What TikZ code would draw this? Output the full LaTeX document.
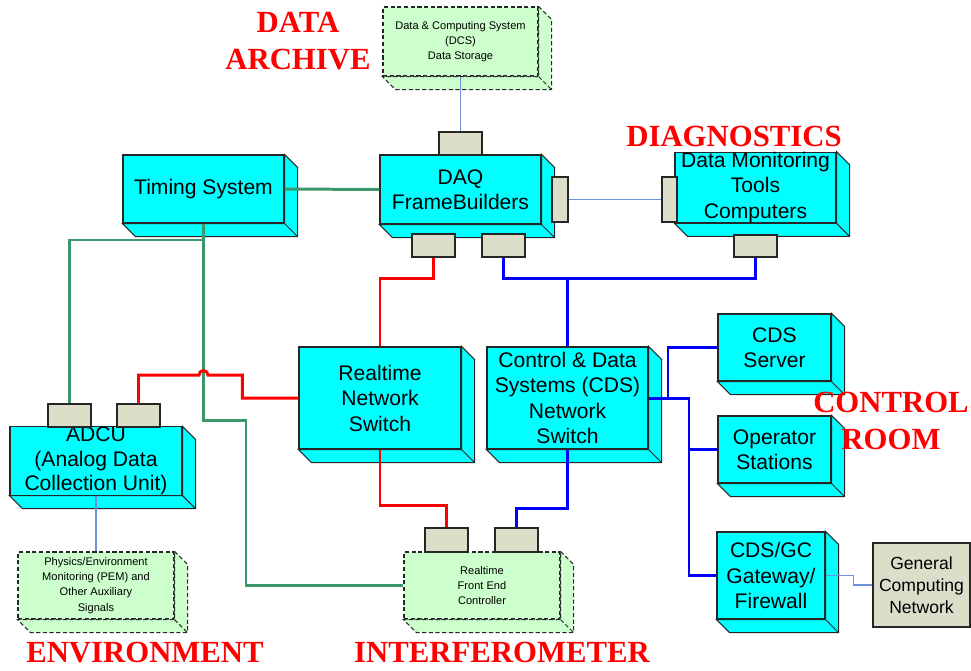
\documentclass[tikz,border=0pt]{standalone}
\usepackage{fontspec}
\setmainfont{Liberation Sans}
\newfontfamily\areafont{Liberation Serif}
\definecolor{boxcyan}{RGB}{0,255,255}
\definecolor{palegreen}{RGB}{204,255,204}
\definecolor{portgray}{RGB}{221,222,201}
\definecolor{clkgreen}{RGB}{60,152,108}
\definecolor{thinblue}{RGB}{110,145,220}
\usetikzlibrary{calc}

\tikzset{
  hwface/.style={draw=black!85, fill=boxcyan, line width=0.6pt},
  storeface/.style={draw=black!85, fill=palegreen, dashed, dash pattern=on 2.4pt off 1.4pt, line width=0.6pt},
  hw/.style={hwface, align=center, inner sep=0pt, font=\fontsize{12}{14.5}\selectfont},
  store/.style={storeface, align=center, inner sep=0pt, font=\fontsize{6.3}{8.6}\selectfont},
  port/.style={draw=black!85, fill=portgray, line width=0.6pt, inner sep=0pt},
  sz/.style 2 args={minimum width=#1*0.02cm, minimum height=#2*0.02cm},
  area/.style={text=red, align=center, font=\areafont\bfseries\fontsize{17.5}{21.5}\selectfont},
  clkline/.style={clkgreen, line width=1.7pt},
  rtline/.style={red, line width=1.7pt},
  cdsline/.style={blue, line width=1.7pt},
  dataline/.style={thinblue, line width=0.6pt}
}

% side and bottom faces of a box, 13 units deep
\newcommand{\boxdepth}[2][]{%
  \filldraw[#1] (#2.north east) -- ++(13,13) -- ([shift={(13,13)}]#2.south east)
    -- ([shift={(13,13)}]#2.south west) -- (#2.south west) -- (#2.south east) -- cycle;
  \draw[#1] (#2.south east) -- ++(13,13);}

\begin{document}
\begin{tikzpicture}[x=0.02cm, y=-0.02cm]
\useasboundingbox (0,0) rectangle (971,670);

% storage and computers
\node[store, sz={155}{69}] (dcs) at (460.5,41.5) {Data \& Computing System\\(DCS)\\Data Storage};
\boxdepth[storeface]{dcs}
\node[hw, sz={161}{69}] (daq) at (460.5,189.5) {DAQ\\FrameBuilders};
\boxdepth[hwface]{daq}
\node[hw, sz={161}{68}] (timing) at (203.5,189) {Timing System};
\boxdepth[hwface]{timing}
\node[hw, sz={161}{69}] (dmt) at (755.5,187.5) {Data Monitoring\\Tools\\Computers};
\boxdepth[hwface]{dmt}

% switches
\node[hw, sz={162}{102}] (rns) at (380,398) {Realtime\\Network\\Switch};
\boxdepth[hwface]{rns}
\node[hw, sz={161}{102}] (cdsw) at (567.5,398) {Control \& Data\\Systems (CDS)\\Network\\Switch};
\boxdepth[hwface]{cdsw}

% control room
\node[hw, sz={113}{67}] (srv) at (774.5,347.5) {CDS\\Server};
\boxdepth[hwface]{srv}
\node[hw, sz={113}{67}] (ops) at (774.5,449.5) {Operator\\Stations};
\boxdepth[hwface]{ops}
\node[hw, sz={108}{87}] (gw) at (771,575.5) {CDS/GC\\Gateway/\\Firewall};
\boxdepth[hwface]{gw}
\node[port, sz={97}{84}, align=center, font=\fontsize{10}{12.5}\selectfont] (gcn) at (921.5,585) {General\\Computing\\Network};

% environment and interferometer
\node[hw, sz={172}{68}, font=\fontsize{12}{14}\selectfont] (adcu) at (96,461) {ADCU\\(Analog Data\\Collection Unit)};
\boxdepth[hwface]{adcu}
\node[store, sz={156}{67}] (pem) at (96,585.5) {Physics/Environment\\Monitoring (PEM) and\\Other Auxiliary\\Signals};
\boxdepth[storeface]{pem}
\node[store, sz={156}{67}] (rfec) at (482,585.5) {Realtime\\Front End\\Controller};
\boxdepth[storeface]{rfec}

% ports
\node[port, sz={43}{23}] (daqtop) at (460.5,143.5) {};
\node[port, sz={16}{45}] (daqright) at (560,199.5) {};
\node[port, sz={43}{23}] (daqbl) at (433.5,245.5) {};
\node[port, sz={43}{23}] (daqbr) at (503.5,245.5) {};
\node[port, sz={15}{45}] (dmtleft) at (669.5,199.5) {};
\node[port, sz={43}{22}] (dmtbot) at (755.5,246) {};
\node[port, sz={43}{23}] (adcu1) at (69.5,415.5) {};
\node[port, sz={43}{23}] (adcu2) at (138.5,415.5) {};
\node[port, sz={43}{24}] (rfec1) at (446.5,540) {};
\node[port, sz={43}{24}] (rfec2) at (516.5,540) {};

% timing
\coordinate (gsplit) at (203.5,240);
\coordinate (gbend) at (246,420);
\draw[clkline] (timing.east) -- (daq.west);
\draw[clkline] (timing.south) |- (gbend) |- (rfec.west);
\draw[clkline] (gsplit) -| (adcu1.north);

% realtime network
\coordinate (rhop) at (203.5,375);
\draw[rtline] (daqbl.south) -- ++(0,21) -| (rns.north);
\draw[rtline] (rns.west) -- ++(-56,0) |- ([xshift=0.09cm]rhop)
  arc[start angle=0, end angle=180, radius=0.09cm] -| (adcu2.north);
\draw[rtline] (rns.south) -- ++(0,56) -| (rfec1.north);

% CDS network
\coordinate (bbus) at ($(daqbr.south)+(0,21)$);
\coordinate (bsrv) at (668,398);
\coordinate (bsplit) at (689,398);
\draw[cdsline] (daqbr.south) -- (bbus) -| (dmtbot.south);
\draw[cdsline] (cdsw.north) -- (cdsw.north |- bbus);
\draw[cdsline] (cdsw.east) -- (bsplit) |- (gw.west);
\draw[cdsline] (bsrv) |- (srv.west);
\draw[cdsline] (bsplit) |- (ops.west);
\draw[cdsline] (cdsw.south) -- ++(0,59) -| (rfec2.north);

% data links
\draw[dataline] (dcs.south) -- (daqtop.north);
\draw[dataline] (daqright.east) -- (dmtleft.west);
\draw[dataline] (adcu.south) -- (pem.north);
\draw[dataline] (gw.east) -- ++(28,0) |- (gcn.west);

% areas
\node[area] (archive) at (298,41) {DATA\\ARCHIVE};
\node[area] (diag) at (734,136) {DIAGNOSTICS};
\node[area] (ctrl) at (891,421) {CONTROL\\ROOM};
\node[area] (env) at (145,653) {ENVIRONMENT};
\node[area] (ifo) at (502,652) {INTERFEROMETER};
\end{tikzpicture}
\end{document}
